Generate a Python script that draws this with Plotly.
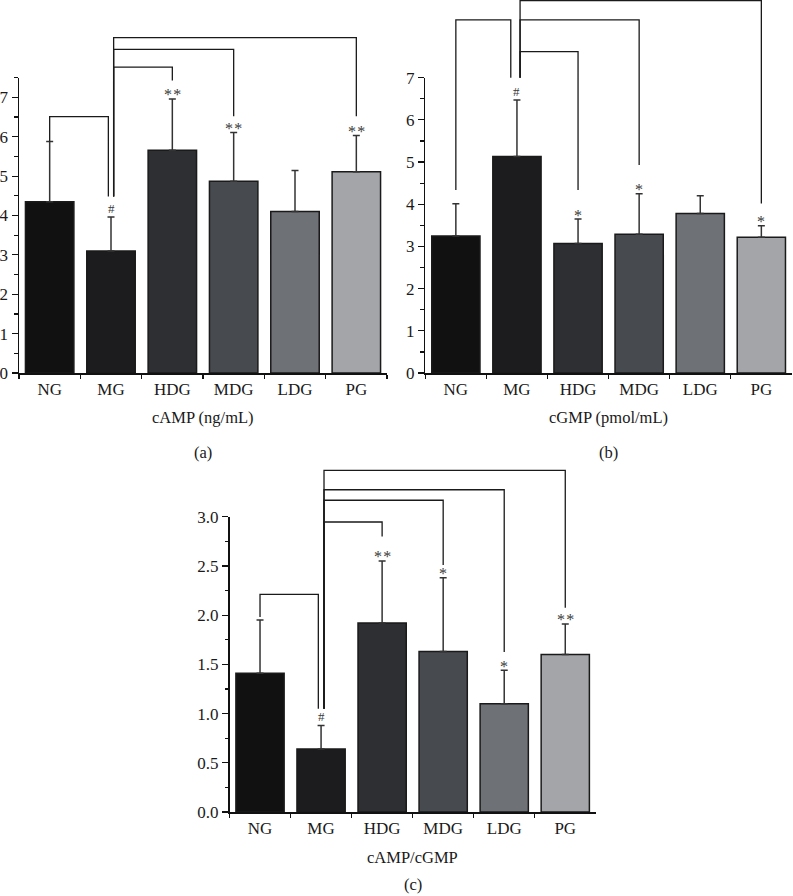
import plotly.graph_objects as go

groups = ["NG", "MG", "HDG", "MDG", "LDG", "PG"]

camp_mean = [4.35, 3.10, 5.66, 4.87, 4.10, 5.11]
camp_sd = [1.53, 0.86, 1.30, 1.24, 1.04, 0.92]
camp_sig = ["", "#", "**", "**", "", "**"]

cgmp_mean = [3.25, 5.13, 3.07, 3.29, 3.78, 3.22]
cgmp_sd = [0.76, 1.34, 0.58, 0.96, 0.42, 0.27]
cgmp_sig = ["", "#", "*", "*", "", "*"]

ratio_mean = [1.41, 0.64, 1.92, 1.63, 1.10, 1.60]
ratio_sd = [0.54, 0.24, 0.63, 0.75, 0.34, 0.31]
ratio_sig = ["", "#", "**", "*", "*", "**"]

bar_colors = ["#111111", "#1c1c1e", "#2e2f33", "#474a4e", "#6e7175", "#a3a5a8"]

W, H = 793, 896
FONT = "Liberation Serif"

# panel geometry in pixels: (left, right, y_zero, y_top)
panels = [
    dict(mean=camp_mean, sd=camp_sd, sig=camp_sig, title="cAMP (ng/mL)", label="(a)",
         px=(19, 387), py=(373, 77.7), ymax=7.5, dtick=1, minor=0.5, fmt=None,
         # brackets: (x_left, x_right, top, left_bottom, right_bottom)
         brackets=[(0.0, 0.957, 6.51, 5.885, 4.48),
                   (1.043, 2.0, 7.77, 4.48, 7.43),
                   (1.043, 3.0, 8.22, 4.48, 6.52),
                   (1.043, 5.0, 8.52, 4.48, 6.52)],
         title_y=417, label_y=453),
    dict(mean=cgmp_mean, sd=cgmp_sd, sig=cgmp_sig, title="cGMP (pmol/mL)", label="(b)",
         px=(425.3, 791.9), py=(373, 77.7), ymax=7, dtick=1, minor=0.5, fmt=None,
         brackets=[(0.0, 0.899, 8.37, 4.34, 7.0),
                   (1.051, 2.0, 7.62, 7.0, 4.34),
                   (1.051, 3.0, 8.37, 7.0, 4.93),
                   (1.051, 5.0, 8.83, 7.0, 4.02)],
         title_y=417, label_y=453),
    dict(mean=ratio_mean, sd=ratio_sd, sig=ratio_sig, title="cAMP/cGMP", label="(c)",
         px=(229.5, 595.8), py=(812, 516.7), ymax=3.0, dtick=0.5, minor=0.25, fmt=".1f",
         brackets=[(0.0, 0.955, 2.21, 1.98, 1.05),
                   (1.048, 2.0, 2.946, 1.05, 2.80),
                   (1.048, 3.0, 3.167, 1.05, 2.51),
                   (1.048, 4.0, 3.274, 1.05, 1.625),
                   (1.048, 5.0, 3.47, 1.05, 2.075)],
         title_y=857, label_y=884),
]

fig = go.Figure()
shapes = []
annotations = []

for k, p in enumerate(panels):
    sfx = "" if k == 0 else str(k + 1)
    xname, yname = "x" + sfx, "y" + sfx
    fig.add_trace(go.Bar(
        x=groups, y=p["mean"], xaxis=xname, yaxis=yname,
        width=0.79,
        marker=dict(color=bar_colors, line=dict(color="#1a1a1a", width=1.5)),
        error_y=dict(type="data", array=p["sd"], arrayminus=[0] * len(p["sd"]),
                     symmetric=False, color="#333333", thickness=1.5, width=3.5),
        showlegend=False, hoverinfo="skip",
    ))
    dom_x = [p["px"][0] / W, p["px"][1] / W]
    dom_y = [1 - p["py"][0] / H, 1 - p["py"][1] / H]
    xa = dict(domain=dom_x, anchor=yname, type="category", range=[-0.5, 5.5],
              showline=True, linecolor="#111", linewidth=1.5, ticks="outside",
              tickson="boundaries", ticklen=4, tickwidth=1.2, tickcolor="#111",
              showgrid=False, zeroline=False, fixedrange=True, automargin=False,
              tickfont=dict(family=FONT, size=17, color="#1a1a1a"))
    ya = dict(domain=dom_y, anchor=xname, range=[0, p["ymax"]],
              tickmode="linear", tick0=0, dtick=p["dtick"],
              showline=True, linecolor="#111", linewidth=1.5, ticks="outside",
              ticklen=6, tickwidth=1.2, tickcolor="#111",
              minor=dict(ticks="outside", ticklen=3.5, dtick=p["minor"], tick0=0,
                         tickcolor="#111", tickwidth=1.2, showgrid=False),
              showgrid=False, zeroline=False, fixedrange=True, automargin=False,
              tickfont=dict(family=FONT, size=17, color="#1a1a1a"))
    if p["fmt"]:
        ya["tickformat"] = p["fmt"]
    fig.update_layout(**{"xaxis" + sfx: xa, "yaxis" + sfx: ya})

    ydom = yname + " domain"
    ymax = p["ymax"]
    line = dict(color="#1a1a1a", width=1.3)
    for (xl, xr, top, lb, rb) in p["brackets"]:
        shapes.append(dict(type="path", xref=xname, yref=ydom,
                           path=f"M {xl} {lb / ymax} L {xl} {top / ymax} L {xr} {top / ymax} L {xr} {rb / ymax}",
                           line=line))
    for i, s in enumerate(p["sig"]):
        if not s:
            continue
        annotations.append(dict(x=i, y=p["mean"][i] + p["sd"][i], xref=xname, yref=yname,
                                text="\u200a".join(s), showarrow=False,
                                xanchor="center", yanchor="middle",
                                yshift=(9 if s == "#" else 4),
                                font=dict(family=FONT, size=(13 if s == "#" else 16), color="#3a3a3a")))
    cx = (p["px"][0] + p["px"][1]) / 2 / W
    annotations.append(dict(x=cx, y=1 - p["title_y"] / H, xref="paper", yref="paper",
                            text=p["title"], showarrow=False, xanchor="center", yanchor="middle",
                            font=dict(family=FONT, size=16.5, color="#1a1a1a")))
    annotations.append(dict(x=cx, y=1 - p["label_y"] / H, xref="paper", yref="paper",
                            text=p["label"], showarrow=False, xanchor="center", yanchor="middle",
                            font=dict(family=FONT, size=16.5, color="#1a1a1a")))

fig.update_layout(
    width=W, height=H, margin=dict(l=0, r=0, t=0, b=0, pad=0, autoexpand=False),
    paper_bgcolor="white", plot_bgcolor="white",
    font=dict(family=FONT, size=16, color="#1a1a1a"),
    shapes=shapes, annotations=annotations, bargap=0.21,
)

fig.write_html(
    "out.html",
    config={"displayModeBar": False, "staticPlot": True},
    post_script=(
        "document.documentElement.style.margin='0';"
        "document.body.style.margin='0';document.body.style.overflow='hidden';"
        "var d=document.getElementById('{plot_id}');"
        "d.style.position='fixed';d.style.top='0px';d.style.left='0px';"
    ),
)
